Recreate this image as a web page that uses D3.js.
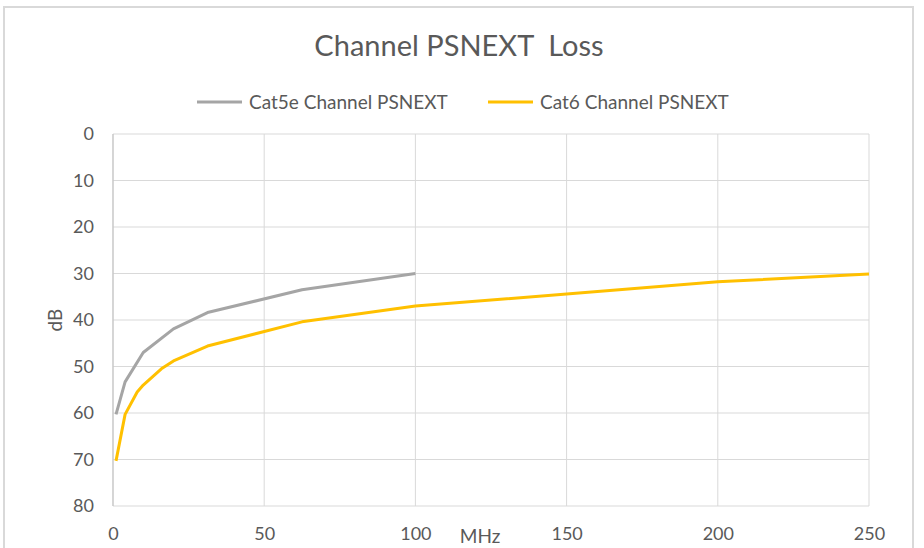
<!DOCTYPE html>
<html><head><meta charset="utf-8">
<script src="https://cdn.jsdelivr.net/npm/d3@7"></script>
<style>body{margin:0;background:#fff}svg{display:block}text{font-family:Lato,"Open Sans",sans-serif;white-space:pre}</style>
</head><body><svg id="c" width="924" height="548"></svg>
<script>
const title = "Channel PSNEXT  Loss";
const seriesNames = ["Cat5e Channel PSNEXT", "Cat6 Channel PSNEXT"];
const cat5eFreq = [1, 4, 10, 20, 31.25, 62.5, 100];
const cat5eDb = [60.3, 53.3, 47.0, 41.9, 38.4, 33.5, 30.0];
const cat6Freq = [1, 4, 8, 10, 16, 20, 31.25, 62.5, 100, 200, 250];
const cat6Db = [70.3, 60.3, 55.5, 54.0, 50.5, 48.8, 45.6, 40.4, 37.0, 31.8, 30.1];
const xTicks = [0, 50, 100, 150, 200, 250];
const yTicks = [0, 10, 20, 30, 40, 50, 60, 70, 80];
const xLabel = "MHz", yLabel = "dB";

const svg = d3.select("#c");
const L = 113, R = 869, T = 134, B = 506;
const x = d3.scaleLinear().domain([0, 250]).range([L, R]);
const y = d3.scaleLinear().domain([0, 80]).range([T, B]);
const txt = "#595959";
const ff = "Lato,'Open Sans',sans-serif";

// outer chart frame
svg.append("rect").attr("x", 4).attr("y", 7).attr("width", 909).attr("height", 560)
  .attr("fill", "#fff").attr("stroke", "#d9d9d9").attr("stroke-width", 2);

// gridlines
svg.append("g").selectAll("line").data(yTicks).join("line")
  .attr("x1", L).attr("x2", R).attr("y1", d => y(d)).attr("y2", d => y(d))
  .attr("stroke", "#d9d9d9").attr("stroke-width", 1);
svg.append("g").selectAll("line").data(xTicks).join("line")
  .attr("y1", T).attr("y2", B).attr("x1", d => x(d)).attr("x2", d => x(d))
  .attr("stroke", "#d9d9d9").attr("stroke-width", 1);
svg.append("line").attr("x1", L).attr("x2", L).attr("y1", T).attr("y2", B).attr("stroke", "#bfbfbf");

// axes via d3
const ya = svg.append("g").attr("transform", `translate(${L - 19},0)`)
  .call(d3.axisLeft(y).tickValues(yTicks).tickSize(0).tickPadding(0));
ya.select(".domain").remove();
ya.selectAll("text").attr("fill", txt).attr("font-size", 18).attr("font-family", ff);
const xa = svg.append("g").attr("transform", `translate(0,${B + 21})`)
  .call(d3.axisBottom(x).tickValues(xTicks).tickSize(0).tickPadding(0));
xa.select(".domain").remove();
xa.selectAll("text").attr("fill", txt).attr("font-size", 18).attr("font-family", ff);

// lines
const line = d3.line().x(d => x(d[0])).y(d => y(d[1]));
svg.append("path").datum(cat5eFreq.map((f, i) => [f, cat5eDb[i]]))
  .attr("d", line).attr("fill", "none").attr("stroke", "#a5a5a5").attr("stroke-width", 3)
  .attr("stroke-linejoin", "round");
svg.append("path").datum(cat6Freq.map((f, i) => [f, cat6Db[i]]))
  .attr("d", line).attr("fill", "none").attr("stroke", "#ffc000").attr("stroke-width", 3)
  .attr("stroke-linejoin", "round");

// title
svg.append("text").attr("x", 459).attr("y", 56).attr("text-anchor", "middle")
  .attr("font-size", 29).attr("fill", txt).attr("xml:space", "preserve").text(title);

// legend
const lg = [{x: 197, c: "#a5a5a5", t: seriesNames[0]}, {x: 488, c: "#ffc000", t: seriesNames[1]}];
lg.forEach(d => {
  svg.append("line").attr("x1", d.x).attr("x2", d.x + 45).attr("y1", 102).attr("y2", 102)
    .attr("stroke", d.c).attr("stroke-width", 3);
  svg.append("text").attr("x", d.x + 52).attr("y", 109).attr("font-size", 19).attr("fill", txt).text(d.t);
});

// axis titles
svg.append("text").attr("x", 480).attr("y", 543).attr("text-anchor", "middle")
  .attr("font-size", 19).attr("fill", txt).text(xLabel);
svg.append("text").attr("transform", "translate(62,320) rotate(-90)").attr("text-anchor", "middle")
  .attr("font-size", 19).attr("fill", txt).text(yLabel);
</script></body></html>
